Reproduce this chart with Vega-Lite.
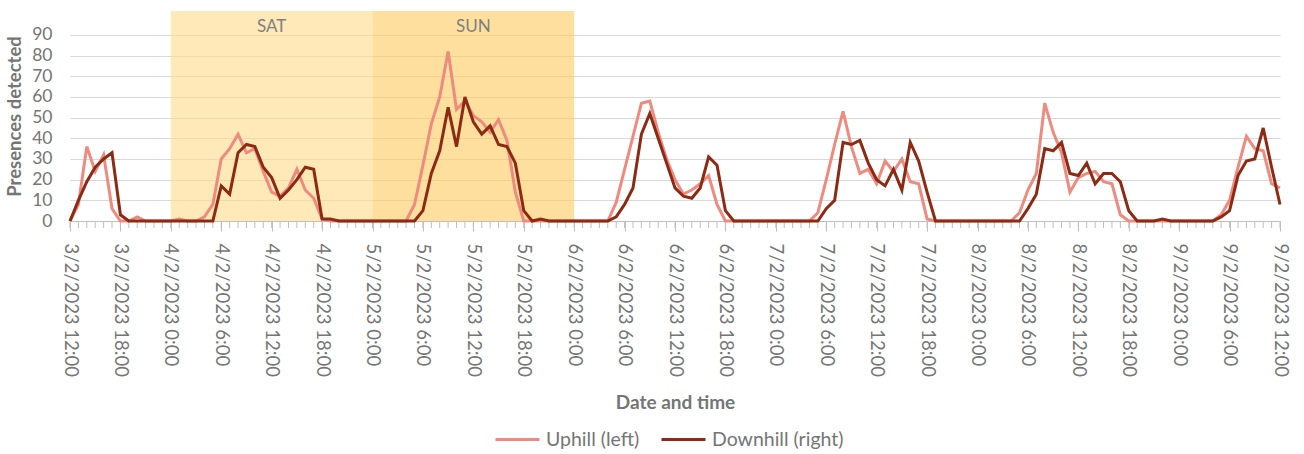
{
  "$schema": "https://vega.github.io/schema/vega-lite/v6.json",
  "autosize": {"type": "none"},
  "padding": {"left": 70, "top": 11, "right": 24, "bottom": 233},
  "width": 1210,
  "height": 210,
  "config": {
    "font": "Lato",
    "view": {"stroke": null},
    "axisX": {
      "grid": false,
      "tickSize": 10,
      "tickColor": "#BFBFBF",
      "domainColor": "#BFBFBF",
      "labelAngle": 90,
      "labelAlign": "left",
      "labelBaseline": "middle",
      "labelFontSize": 18.5,
      "labelColor": "#757575",
      "labelPadding": 12,
      "labelOverlap": false,
      "labelFlush": false,
      "titleFontSize": 19,
      "titleFontWeight": "bold",
      "titleColor": "#757575",
      "titlePadding": 17
    },
    "axisY": {
      "grid": true,
      "gridColor": "#D9D9D9",
      "ticks": false,
      "domain": false,
      "labelFontSize": 17.5,
      "labelColor": "#757575",
      "labelPadding": 18,
      "titleFontSize": 18.5,
      "titleFontWeight": "bold",
      "titleColor": "#757575",
      "titlePadding": 7
    }
  },
  "datasets": {
    "bands": [
      {"start": "2023-02-04T00:00", "end": "2023-02-05T00:00", "mid": "2023-02-04T12:00", "day": "SAT"},
      {"start": "2023-02-05T00:00", "end": "2023-02-06T00:00", "mid": "2023-02-05T12:00", "day": "SUN"}
    ],
    "counts": [
      {"t": "2023-02-03T12:00", "s": "Uphill (left)", "n": 0},
      {"t": "2023-02-03T13:00", "s": "Uphill (left)", "n": 8},
      {"t": "2023-02-03T14:00", "s": "Uphill (left)", "n": 36},
      {"t": "2023-02-03T15:00", "s": "Uphill (left)", "n": 24},
      {"t": "2023-02-03T16:00", "s": "Uphill (left)", "n": 32},
      {"t": "2023-02-03T17:00", "s": "Uphill (left)", "n": 6},
      {"t": "2023-02-03T18:00", "s": "Uphill (left)", "n": 0},
      {"t": "2023-02-03T19:00", "s": "Uphill (left)", "n": 0},
      {"t": "2023-02-03T20:00", "s": "Uphill (left)", "n": 2},
      {"t": "2023-02-03T21:00", "s": "Uphill (left)", "n": 0},
      {"t": "2023-02-03T22:00", "s": "Uphill (left)", "n": 0},
      {"t": "2023-02-03T23:00", "s": "Uphill (left)", "n": 0},
      {"t": "2023-02-04T00:00", "s": "Uphill (left)", "n": 0},
      {"t": "2023-02-04T01:00", "s": "Uphill (left)", "n": 1},
      {"t": "2023-02-04T02:00", "s": "Uphill (left)", "n": 0},
      {"t": "2023-02-04T03:00", "s": "Uphill (left)", "n": 0},
      {"t": "2023-02-04T04:00", "s": "Uphill (left)", "n": 2},
      {"t": "2023-02-04T05:00", "s": "Uphill (left)", "n": 8},
      {"t": "2023-02-04T06:00", "s": "Uphill (left)", "n": 30},
      {"t": "2023-02-04T07:00", "s": "Uphill (left)", "n": 35},
      {"t": "2023-02-04T08:00", "s": "Uphill (left)", "n": 42},
      {"t": "2023-02-04T09:00", "s": "Uphill (left)", "n": 33},
      {"t": "2023-02-04T10:00", "s": "Uphill (left)", "n": 35},
      {"t": "2023-02-04T11:00", "s": "Uphill (left)", "n": 24},
      {"t": "2023-02-04T12:00", "s": "Uphill (left)", "n": 14},
      {"t": "2023-02-04T13:00", "s": "Uphill (left)", "n": 12},
      {"t": "2023-02-04T14:00", "s": "Uphill (left)", "n": 16},
      {"t": "2023-02-04T15:00", "s": "Uphill (left)", "n": 25},
      {"t": "2023-02-04T16:00", "s": "Uphill (left)", "n": 15},
      {"t": "2023-02-04T17:00", "s": "Uphill (left)", "n": 11},
      {"t": "2023-02-04T18:00", "s": "Uphill (left)", "n": 1},
      {"t": "2023-02-04T19:00", "s": "Uphill (left)", "n": 0},
      {"t": "2023-02-04T20:00", "s": "Uphill (left)", "n": 0},
      {"t": "2023-02-04T21:00", "s": "Uphill (left)", "n": 0},
      {"t": "2023-02-04T22:00", "s": "Uphill (left)", "n": 0},
      {"t": "2023-02-04T23:00", "s": "Uphill (left)", "n": 0},
      {"t": "2023-02-05T00:00", "s": "Uphill (left)", "n": 0},
      {"t": "2023-02-05T01:00", "s": "Uphill (left)", "n": 0},
      {"t": "2023-02-05T02:00", "s": "Uphill (left)", "n": 0},
      {"t": "2023-02-05T03:00", "s": "Uphill (left)", "n": 0},
      {"t": "2023-02-05T04:00", "s": "Uphill (left)", "n": 0},
      {"t": "2023-02-05T05:00", "s": "Uphill (left)", "n": 8},
      {"t": "2023-02-05T06:00", "s": "Uphill (left)", "n": 27},
      {"t": "2023-02-05T07:00", "s": "Uphill (left)", "n": 47},
      {"t": "2023-02-05T08:00", "s": "Uphill (left)", "n": 60},
      {"t": "2023-02-05T09:00", "s": "Uphill (left)", "n": 82},
      {"t": "2023-02-05T10:00", "s": "Uphill (left)", "n": 54},
      {"t": "2023-02-05T11:00", "s": "Uphill (left)", "n": 58},
      {"t": "2023-02-05T12:00", "s": "Uphill (left)", "n": 51},
      {"t": "2023-02-05T13:00", "s": "Uphill (left)", "n": 48},
      {"t": "2023-02-05T14:00", "s": "Uphill (left)", "n": 43},
      {"t": "2023-02-05T15:00", "s": "Uphill (left)", "n": 49},
      {"t": "2023-02-05T16:00", "s": "Uphill (left)", "n": 39},
      {"t": "2023-02-05T17:00", "s": "Uphill (left)", "n": 14},
      {"t": "2023-02-05T18:00", "s": "Uphill (left)", "n": 0},
      {"t": "2023-02-05T19:00", "s": "Uphill (left)", "n": 0},
      {"t": "2023-02-05T20:00", "s": "Uphill (left)", "n": 0},
      {"t": "2023-02-05T21:00", "s": "Uphill (left)", "n": 0},
      {"t": "2023-02-05T22:00", "s": "Uphill (left)", "n": 0},
      {"t": "2023-02-05T23:00", "s": "Uphill (left)", "n": 0},
      {"t": "2023-02-06T00:00", "s": "Uphill (left)", "n": 0},
      {"t": "2023-02-06T01:00", "s": "Uphill (left)", "n": 0},
      {"t": "2023-02-06T02:00", "s": "Uphill (left)", "n": 0},
      {"t": "2023-02-06T03:00", "s": "Uphill (left)", "n": 0},
      {"t": "2023-02-06T04:00", "s": "Uphill (left)", "n": 0},
      {"t": "2023-02-06T05:00", "s": "Uphill (left)", "n": 9},
      {"t": "2023-02-06T06:00", "s": "Uphill (left)", "n": 25},
      {"t": "2023-02-06T07:00", "s": "Uphill (left)", "n": 41},
      {"t": "2023-02-06T08:00", "s": "Uphill (left)", "n": 57},
      {"t": "2023-02-06T09:00", "s": "Uphill (left)", "n": 58},
      {"t": "2023-02-06T10:00", "s": "Uphill (left)", "n": 43},
      {"t": "2023-02-06T11:00", "s": "Uphill (left)", "n": 30},
      {"t": "2023-02-06T12:00", "s": "Uphill (left)", "n": 20},
      {"t": "2023-02-06T13:00", "s": "Uphill (left)", "n": 13},
      {"t": "2023-02-06T14:00", "s": "Uphill (left)", "n": 15},
      {"t": "2023-02-06T15:00", "s": "Uphill (left)", "n": 18},
      {"t": "2023-02-06T16:00", "s": "Uphill (left)", "n": 22},
      {"t": "2023-02-06T17:00", "s": "Uphill (left)", "n": 8},
      {"t": "2023-02-06T18:00", "s": "Uphill (left)", "n": 0},
      {"t": "2023-02-06T19:00", "s": "Uphill (left)", "n": 0},
      {"t": "2023-02-06T20:00", "s": "Uphill (left)", "n": 0},
      {"t": "2023-02-06T21:00", "s": "Uphill (left)", "n": 0},
      {"t": "2023-02-06T22:00", "s": "Uphill (left)", "n": 0},
      {"t": "2023-02-06T23:00", "s": "Uphill (left)", "n": 0},
      {"t": "2023-02-07T00:00", "s": "Uphill (left)", "n": 0},
      {"t": "2023-02-07T01:00", "s": "Uphill (left)", "n": 0},
      {"t": "2023-02-07T02:00", "s": "Uphill (left)", "n": 0},
      {"t": "2023-02-07T03:00", "s": "Uphill (left)", "n": 0},
      {"t": "2023-02-07T04:00", "s": "Uphill (left)", "n": 0},
      {"t": "2023-02-07T05:00", "s": "Uphill (left)", "n": 4},
      {"t": "2023-02-07T06:00", "s": "Uphill (left)", "n": 20},
      {"t": "2023-02-07T07:00", "s": "Uphill (left)", "n": 37},
      {"t": "2023-02-07T08:00", "s": "Uphill (left)", "n": 53},
      {"t": "2023-02-07T09:00", "s": "Uphill (left)", "n": 36},
      {"t": "2023-02-07T10:00", "s": "Uphill (left)", "n": 23},
      {"t": "2023-02-07T11:00", "s": "Uphill (left)", "n": 25},
      {"t": "2023-02-07T12:00", "s": "Uphill (left)", "n": 18},
      {"t": "2023-02-07T13:00", "s": "Uphill (left)", "n": 29},
      {"t": "2023-02-07T14:00", "s": "Uphill (left)", "n": 24},
      {"t": "2023-02-07T15:00", "s": "Uphill (left)", "n": 30},
      {"t": "2023-02-07T16:00", "s": "Uphill (left)", "n": 19},
      {"t": "2023-02-07T17:00", "s": "Uphill (left)", "n": 18},
      {"t": "2023-02-07T18:00", "s": "Uphill (left)", "n": 1},
      {"t": "2023-02-07T19:00", "s": "Uphill (left)", "n": 0},
      {"t": "2023-02-07T20:00", "s": "Uphill (left)", "n": 0},
      {"t": "2023-02-07T21:00", "s": "Uphill (left)", "n": 0},
      {"t": "2023-02-07T22:00", "s": "Uphill (left)", "n": 0},
      {"t": "2023-02-07T23:00", "s": "Uphill (left)", "n": 0},
      {"t": "2023-02-08T00:00", "s": "Uphill (left)", "n": 0},
      {"t": "2023-02-08T01:00", "s": "Uphill (left)", "n": 0},
      {"t": "2023-02-08T02:00", "s": "Uphill (left)", "n": 0},
      {"t": "2023-02-08T03:00", "s": "Uphill (left)", "n": 0},
      {"t": "2023-02-08T04:00", "s": "Uphill (left)", "n": 0},
      {"t": "2023-02-08T05:00", "s": "Uphill (left)", "n": 4},
      {"t": "2023-02-08T06:00", "s": "Uphill (left)", "n": 15},
      {"t": "2023-02-08T07:00", "s": "Uphill (left)", "n": 23},
      {"t": "2023-02-08T08:00", "s": "Uphill (left)", "n": 57},
      {"t": "2023-02-08T09:00", "s": "Uphill (left)", "n": 43},
      {"t": "2023-02-08T10:00", "s": "Uphill (left)", "n": 33},
      {"t": "2023-02-08T11:00", "s": "Uphill (left)", "n": 14},
      {"t": "2023-02-08T12:00", "s": "Uphill (left)", "n": 21},
      {"t": "2023-02-08T13:00", "s": "Uphill (left)", "n": 23},
      {"t": "2023-02-08T14:00", "s": "Uphill (left)", "n": 24},
      {"t": "2023-02-08T15:00", "s": "Uphill (left)", "n": 19},
      {"t": "2023-02-08T16:00", "s": "Uphill (left)", "n": 18},
      {"t": "2023-02-08T17:00", "s": "Uphill (left)", "n": 3},
      {"t": "2023-02-08T18:00", "s": "Uphill (left)", "n": 0},
      {"t": "2023-02-08T19:00", "s": "Uphill (left)", "n": 0},
      {"t": "2023-02-08T20:00", "s": "Uphill (left)", "n": 0},
      {"t": "2023-02-08T21:00", "s": "Uphill (left)", "n": 0},
      {"t": "2023-02-08T22:00", "s": "Uphill (left)", "n": 0},
      {"t": "2023-02-08T23:00", "s": "Uphill (left)", "n": 0},
      {"t": "2023-02-09T00:00", "s": "Uphill (left)", "n": 0},
      {"t": "2023-02-09T01:00", "s": "Uphill (left)", "n": 0},
      {"t": "2023-02-09T02:00", "s": "Uphill (left)", "n": 0},
      {"t": "2023-02-09T03:00", "s": "Uphill (left)", "n": 0},
      {"t": "2023-02-09T04:00", "s": "Uphill (left)", "n": 0},
      {"t": "2023-02-09T05:00", "s": "Uphill (left)", "n": 3},
      {"t": "2023-02-09T06:00", "s": "Uphill (left)", "n": 10},
      {"t": "2023-02-09T07:00", "s": "Uphill (left)", "n": 26},
      {"t": "2023-02-09T08:00", "s": "Uphill (left)", "n": 41},
      {"t": "2023-02-09T09:00", "s": "Uphill (left)", "n": 35},
      {"t": "2023-02-09T10:00", "s": "Uphill (left)", "n": 34},
      {"t": "2023-02-09T11:00", "s": "Uphill (left)", "n": 18},
      {"t": "2023-02-09T12:00", "s": "Uphill (left)", "n": 16},
      {"t": "2023-02-03T12:00", "s": "Downhill (right)", "n": 0},
      {"t": "2023-02-03T13:00", "s": "Downhill (right)", "n": 10},
      {"t": "2023-02-03T14:00", "s": "Downhill (right)", "n": 19},
      {"t": "2023-02-03T15:00", "s": "Downhill (right)", "n": 26},
      {"t": "2023-02-03T16:00", "s": "Downhill (right)", "n": 30},
      {"t": "2023-02-03T17:00", "s": "Downhill (right)", "n": 33},
      {"t": "2023-02-03T18:00", "s": "Downhill (right)", "n": 3},
      {"t": "2023-02-03T19:00", "s": "Downhill (right)", "n": 0},
      {"t": "2023-02-03T20:00", "s": "Downhill (right)", "n": 0},
      {"t": "2023-02-03T21:00", "s": "Downhill (right)", "n": 0},
      {"t": "2023-02-03T22:00", "s": "Downhill (right)", "n": 0},
      {"t": "2023-02-03T23:00", "s": "Downhill (right)", "n": 0},
      {"t": "2023-02-04T00:00", "s": "Downhill (right)", "n": 0},
      {"t": "2023-02-04T01:00", "s": "Downhill (right)", "n": 0},
      {"t": "2023-02-04T02:00", "s": "Downhill (right)", "n": 0},
      {"t": "2023-02-04T03:00", "s": "Downhill (right)", "n": 0},
      {"t": "2023-02-04T04:00", "s": "Downhill (right)", "n": 0},
      {"t": "2023-02-04T05:00", "s": "Downhill (right)", "n": 0},
      {"t": "2023-02-04T06:00", "s": "Downhill (right)", "n": 17},
      {"t": "2023-02-04T07:00", "s": "Downhill (right)", "n": 13},
      {"t": "2023-02-04T08:00", "s": "Downhill (right)", "n": 33},
      {"t": "2023-02-04T09:00", "s": "Downhill (right)", "n": 37},
      {"t": "2023-02-04T10:00", "s": "Downhill (right)", "n": 36},
      {"t": "2023-02-04T11:00", "s": "Downhill (right)", "n": 26},
      {"t": "2023-02-04T12:00", "s": "Downhill (right)", "n": 21},
      {"t": "2023-02-04T13:00", "s": "Downhill (right)", "n": 11},
      {"t": "2023-02-04T14:00", "s": "Downhill (right)", "n": 15},
      {"t": "2023-02-04T15:00", "s": "Downhill (right)", "n": 20},
      {"t": "2023-02-04T16:00", "s": "Downhill (right)", "n": 26},
      {"t": "2023-02-04T17:00", "s": "Downhill (right)", "n": 25},
      {"t": "2023-02-04T18:00", "s": "Downhill (right)", "n": 1},
      {"t": "2023-02-04T19:00", "s": "Downhill (right)", "n": 1},
      {"t": "2023-02-04T20:00", "s": "Downhill (right)", "n": 0},
      {"t": "2023-02-04T21:00", "s": "Downhill (right)", "n": 0},
      {"t": "2023-02-04T22:00", "s": "Downhill (right)", "n": 0},
      {"t": "2023-02-04T23:00", "s": "Downhill (right)", "n": 0},
      {"t": "2023-02-05T00:00", "s": "Downhill (right)", "n": 0},
      {"t": "2023-02-05T01:00", "s": "Downhill (right)", "n": 0},
      {"t": "2023-02-05T02:00", "s": "Downhill (right)", "n": 0},
      {"t": "2023-02-05T03:00", "s": "Downhill (right)", "n": 0},
      {"t": "2023-02-05T04:00", "s": "Downhill (right)", "n": 0},
      {"t": "2023-02-05T05:00", "s": "Downhill (right)", "n": 0},
      {"t": "2023-02-05T06:00", "s": "Downhill (right)", "n": 5},
      {"t": "2023-02-05T07:00", "s": "Downhill (right)", "n": 23},
      {"t": "2023-02-05T08:00", "s": "Downhill (right)", "n": 34},
      {"t": "2023-02-05T09:00", "s": "Downhill (right)", "n": 55},
      {"t": "2023-02-05T10:00", "s": "Downhill (right)", "n": 36},
      {"t": "2023-02-05T11:00", "s": "Downhill (right)", "n": 60},
      {"t": "2023-02-05T12:00", "s": "Downhill (right)", "n": 48},
      {"t": "2023-02-05T13:00", "s": "Downhill (right)", "n": 42},
      {"t": "2023-02-05T14:00", "s": "Downhill (right)", "n": 46},
      {"t": "2023-02-05T15:00", "s": "Downhill (right)", "n": 37},
      {"t": "2023-02-05T16:00", "s": "Downhill (right)", "n": 36},
      {"t": "2023-02-05T17:00", "s": "Downhill (right)", "n": 28},
      {"t": "2023-02-05T18:00", "s": "Downhill (right)", "n": 5},
      {"t": "2023-02-05T19:00", "s": "Downhill (right)", "n": 0},
      {"t": "2023-02-05T20:00", "s": "Downhill (right)", "n": 1},
      {"t": "2023-02-05T21:00", "s": "Downhill (right)", "n": 0},
      {"t": "2023-02-05T22:00", "s": "Downhill (right)", "n": 0},
      {"t": "2023-02-05T23:00", "s": "Downhill (right)", "n": 0},
      {"t": "2023-02-06T00:00", "s": "Downhill (right)", "n": 0},
      {"t": "2023-02-06T01:00", "s": "Downhill (right)", "n": 0},
      {"t": "2023-02-06T02:00", "s": "Downhill (right)", "n": 0},
      {"t": "2023-02-06T03:00", "s": "Downhill (right)", "n": 0},
      {"t": "2023-02-06T04:00", "s": "Downhill (right)", "n": 0},
      {"t": "2023-02-06T05:00", "s": "Downhill (right)", "n": 2},
      {"t": "2023-02-06T06:00", "s": "Downhill (right)", "n": 8},
      {"t": "2023-02-06T07:00", "s": "Downhill (right)", "n": 16},
      {"t": "2023-02-06T08:00", "s": "Downhill (right)", "n": 42},
      {"t": "2023-02-06T09:00", "s": "Downhill (right)", "n": 52},
      {"t": "2023-02-06T10:00", "s": "Downhill (right)", "n": 40},
      {"t": "2023-02-06T11:00", "s": "Downhill (right)", "n": 28},
      {"t": "2023-02-06T12:00", "s": "Downhill (right)", "n": 16},
      {"t": "2023-02-06T13:00", "s": "Downhill (right)", "n": 12},
      {"t": "2023-02-06T14:00", "s": "Downhill (right)", "n": 11},
      {"t": "2023-02-06T15:00", "s": "Downhill (right)", "n": 16},
      {"t": "2023-02-06T16:00", "s": "Downhill (right)", "n": 31},
      {"t": "2023-02-06T17:00", "s": "Downhill (right)", "n": 27},
      {"t": "2023-02-06T18:00", "s": "Downhill (right)", "n": 5},
      {"t": "2023-02-06T19:00", "s": "Downhill (right)", "n": 0},
      {"t": "2023-02-06T20:00", "s": "Downhill (right)", "n": 0},
      {"t": "2023-02-06T21:00", "s": "Downhill (right)", "n": 0},
      {"t": "2023-02-06T22:00", "s": "Downhill (right)", "n": 0},
      {"t": "2023-02-06T23:00", "s": "Downhill (right)", "n": 0},
      {"t": "2023-02-07T00:00", "s": "Downhill (right)", "n": 0},
      {"t": "2023-02-07T01:00", "s": "Downhill (right)", "n": 0},
      {"t": "2023-02-07T02:00", "s": "Downhill (right)", "n": 0},
      {"t": "2023-02-07T03:00", "s": "Downhill (right)", "n": 0},
      {"t": "2023-02-07T04:00", "s": "Downhill (right)", "n": 0},
      {"t": "2023-02-07T05:00", "s": "Downhill (right)", "n": 0},
      {"t": "2023-02-07T06:00", "s": "Downhill (right)", "n": 6},
      {"t": "2023-02-07T07:00", "s": "Downhill (right)", "n": 10},
      {"t": "2023-02-07T08:00", "s": "Downhill (right)", "n": 38},
      {"t": "2023-02-07T09:00", "s": "Downhill (right)", "n": 37},
      {"t": "2023-02-07T10:00", "s": "Downhill (right)", "n": 39},
      {"t": "2023-02-07T11:00", "s": "Downhill (right)", "n": 28},
      {"t": "2023-02-07T12:00", "s": "Downhill (right)", "n": 20},
      {"t": "2023-02-07T13:00", "s": "Downhill (right)", "n": 17},
      {"t": "2023-02-07T14:00", "s": "Downhill (right)", "n": 25},
      {"t": "2023-02-07T15:00", "s": "Downhill (right)", "n": 15},
      {"t": "2023-02-07T16:00", "s": "Downhill (right)", "n": 38},
      {"t": "2023-02-07T17:00", "s": "Downhill (right)", "n": 29},
      {"t": "2023-02-07T18:00", "s": "Downhill (right)", "n": 14},
      {"t": "2023-02-07T19:00", "s": "Downhill (right)", "n": 0},
      {"t": "2023-02-07T20:00", "s": "Downhill (right)", "n": 0},
      {"t": "2023-02-07T21:00", "s": "Downhill (right)", "n": 0},
      {"t": "2023-02-07T22:00", "s": "Downhill (right)", "n": 0},
      {"t": "2023-02-07T23:00", "s": "Downhill (right)", "n": 0},
      {"t": "2023-02-08T00:00", "s": "Downhill (right)", "n": 0},
      {"t": "2023-02-08T01:00", "s": "Downhill (right)", "n": 0},
      {"t": "2023-02-08T02:00", "s": "Downhill (right)", "n": 0},
      {"t": "2023-02-08T03:00", "s": "Downhill (right)", "n": 0},
      {"t": "2023-02-08T04:00", "s": "Downhill (right)", "n": 0},
      {"t": "2023-02-08T05:00", "s": "Downhill (right)", "n": 0},
      {"t": "2023-02-08T06:00", "s": "Downhill (right)", "n": 6},
      {"t": "2023-02-08T07:00", "s": "Downhill (right)", "n": 13},
      {"t": "2023-02-08T08:00", "s": "Downhill (right)", "n": 35},
      {"t": "2023-02-08T09:00", "s": "Downhill (right)", "n": 34},
      {"t": "2023-02-08T10:00", "s": "Downhill (right)", "n": 38},
      {"t": "2023-02-08T11:00", "s": "Downhill (right)", "n": 23},
      {"t": "2023-02-08T12:00", "s": "Downhill (right)", "n": 22},
      {"t": "2023-02-08T13:00", "s": "Downhill (right)", "n": 28},
      {"t": "2023-02-08T14:00", "s": "Downhill (right)", "n": 18},
      {"t": "2023-02-08T15:00", "s": "Downhill (right)", "n": 23},
      {"t": "2023-02-08T16:00", "s": "Downhill (right)", "n": 23},
      {"t": "2023-02-08T17:00", "s": "Downhill (right)", "n": 19},
      {"t": "2023-02-08T18:00", "s": "Downhill (right)", "n": 5},
      {"t": "2023-02-08T19:00", "s": "Downhill (right)", "n": 0},
      {"t": "2023-02-08T20:00", "s": "Downhill (right)", "n": 0},
      {"t": "2023-02-08T21:00", "s": "Downhill (right)", "n": 0},
      {"t": "2023-02-08T22:00", "s": "Downhill (right)", "n": 1},
      {"t": "2023-02-08T23:00", "s": "Downhill (right)", "n": 0},
      {"t": "2023-02-09T00:00", "s": "Downhill (right)", "n": 0},
      {"t": "2023-02-09T01:00", "s": "Downhill (right)", "n": 0},
      {"t": "2023-02-09T02:00", "s": "Downhill (right)", "n": 0},
      {"t": "2023-02-09T03:00", "s": "Downhill (right)", "n": 0},
      {"t": "2023-02-09T04:00", "s": "Downhill (right)", "n": 0},
      {"t": "2023-02-09T05:00", "s": "Downhill (right)", "n": 2},
      {"t": "2023-02-09T06:00", "s": "Downhill (right)", "n": 5},
      {"t": "2023-02-09T07:00", "s": "Downhill (right)", "n": 22},
      {"t": "2023-02-09T08:00", "s": "Downhill (right)", "n": 29},
      {"t": "2023-02-09T09:00", "s": "Downhill (right)", "n": 30},
      {"t": "2023-02-09T10:00", "s": "Downhill (right)", "n": 45},
      {"t": "2023-02-09T11:00", "s": "Downhill (right)", "n": 26},
      {"t": "2023-02-09T12:00", "s": "Downhill (right)", "n": 8}
    ]
  },
  "layer": [
    {
      "data": {"name": "bands"},
      "mark": {"type": "rect", "opacity": 0.6},
      "encoding": {
        "x": {"field": "start", "type": "temporal", "title": "Date and time", "axis": {"format": "%-d/%-m/%Y %-H:%M"}},
        "x2": {"field": "end"},
        "fill": {
          "field": "day",
          "type": "nominal",
          "scale": {"domain": ["SAT", "SUN"], "range": ["#FFDA89", "#FDC95D"]},
          "legend": null
        }
      }
    },
    {
      "data": {"name": "bands"},
      "mark": {"type": "text", "fontSize": 17, "color": "#808080", "baseline": "middle", "align": "center"},
      "encoding": {
        "x": {"field": "mid", "type": "temporal", "title": "Date and time", "axis": {"format": "%-d/%-m/%Y %-H:%M"}},
        "y": {"datum": 94, "type": "quantitative", "title": "Presences detected", "axis": {"values": [0, 10, 20, 30, 40, 50, 60, 70, 80, 90]}},
        "text": {"field": "day"}
      }
    },
    {
      "data": {"name": "counts"},
      "transform": [{"filter": "datum.s == 'Uphill (left)'"}],
      "mark": {"type": "rule", "color": "#BFBFBF", "strokeWidth": 1},
      "encoding": {
        "x": {"field": "t", "type": "temporal", "title": "Date and time", "axis": {"format": "%-d/%-m/%Y %-H:%M"}},
        "y": {"datum": 0, "type": "quantitative", "title": "Presences detected", "axis": {"values": [0, 10, 20, 30, 40, 50, 60, 70, 80, 90]}},
        "y2": {"datum": -3.4}
      }
    },
    {
      "data": {"name": "counts"},
      "mark": {"type": "line", "strokeWidth": 3},
      "encoding": {
        "x": {
          "field": "t",
          "type": "temporal",
          "title": "Date and time",
          "scale": {"nice": false},
          "axis": {"format": "%-d/%-m/%Y %-H:%M"}
        },
        "y": {
          "field": "n",
          "type": "quantitative",
          "title": "Presences detected",
          "scale": {"domain": [0, 101.6], "nice": false},
          "axis": {"values": [0, 10, 20, 30, 40, 50, 60, 70, 80, 90]}
        },
        "stroke": {
          "field": "s",
          "type": "nominal",
          "scale": {"domain": ["Uphill (left)", "Downhill (right)"], "range": ["#EF8A7E", "#8C2A13"]},
          "legend": {
            "orient": "none",
            "legendX": 424,
            "legendY": 405,
            "direction": "horizontal",
            "title": null,
            "symbolStrokeWidth": 3,
            "symbolSize": 1936,
            "labelFontSize": 19.5,
            "labelColor": "#757575",
            "labelOffset": 5,
            "columnPadding": 15
          }
        }
      }
    }
  ]
}
